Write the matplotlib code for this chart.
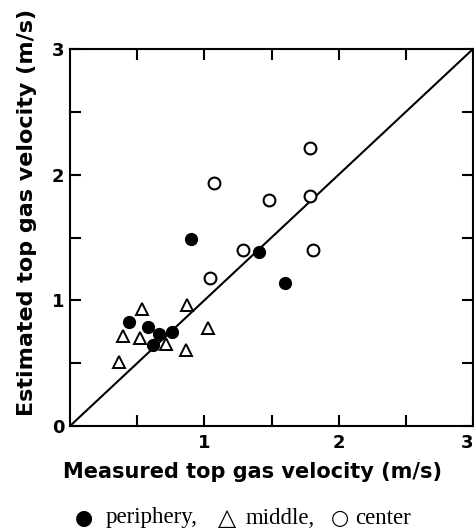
import matplotlib
matplotlib.use("Agg")
import matplotlib.pyplot as plt

# periphery (filled circles)
peri_x = [0.90, 1.41, 1.60, 0.44, 0.58, 0.663, 0.757, 0.618]
peri_y = [1.49, 1.385, 1.14, 0.83, 0.79, 0.735, 0.746, 0.642]
# middle (open triangles)
mid_x = [0.534, 0.874, 0.395, 0.519, 0.717, 0.866, 1.03, 0.367]
mid_y = [0.93, 0.963, 0.719, 0.698, 0.652, 0.607, 0.78, 0.512]
# center (open circles)
cen_x = [1.785, 1.075, 1.48, 1.787, 1.29, 1.81, 1.045]
cen_y = [2.21, 1.93, 1.80, 1.83, 1.40, 1.40, 1.18]

line_xy = [0, 3]

fig = plt.figure(figsize=(4.74, 5.29), dpi=100)
W, H = 474, 529
ax = fig.add_axes([70 / W, 1 - 426 / H, 403 / W, 377 / H])

ax.plot(line_xy, line_xy, color="black", lw=1.5, zorder=1)
ax.plot(peri_x, peri_y, "o", ms=8.5, mfc="black", mec="black", zorder=3)
ax.plot(mid_x, mid_y, "^", ms=8.5, mfc="white", mec="black", mew=1.4, zorder=3)
ax.plot(cen_x, cen_y, "o", ms=8.5, mfc="white", mec="black", mew=1.5, zorder=3)

ax.set_xlim(0, 3)
ax.set_ylim(0, 3)
ax.set_xticks([0.5, 1, 1.5, 2, 2.5, 3])
ax.set_xticklabels(["", "1", "", "2", "", "3"])
ax.set_yticks([0, 0.5, 1, 1.5, 2, 2.5, 3])
ax.set_yticklabels(["0", "", "1", "", "2", "", "3"])
ax.tick_params(direction="in", length=8, width=1.5, top=True, right=True,
               labelsize=13, pad=6)
ax.tick_params(axis="y", pad=4)
for lab in ax.get_xticklabels() + ax.get_yticklabels():
    lab.set_fontweight("bold")
ax.get_xticklabels()[-1].set_horizontalalignment("right")
for s in ax.spines.values():
    s.set_linewidth(1.5)

fig.text(0.5 * (60 + 445) / W, 1 - 472 / H, "Measured top gas velocity (m/s)",
         ha="center", va="center", fontsize=15, fontweight="black")
fig.text(27 / W, 1 - 212 / H, "Estimated top gas velocity (m/s)",
         ha="center", va="center", rotation=90, fontsize=16, fontweight="black")

# legend line
ly = 1 - 518 / H
circ_kw = dict(ha="center", va="center", fontsize=15, family="DejaVu Sans")
tri_kw = dict(ha="center", va="center", fontsize=17, family="DejaVu Sans")
txt_kw = dict(ha="left", va="center", fontsize=16.5, family="Liberation Serif")
fig.text(84 / W, ly, "\u25cf", **circ_kw)
fig.text(106 / W, ly, "periphery,", **txt_kw)
fig.text(227 / W, ly, "\u25b3", **tri_kw)
fig.text(246 / W, ly, "middle,", **txt_kw)
fig.text(340 / W, ly, "\u25cb", **circ_kw)
fig.text(355 / W, ly, "center", **txt_kw)

fig.savefig("out.png", dpi=100)
